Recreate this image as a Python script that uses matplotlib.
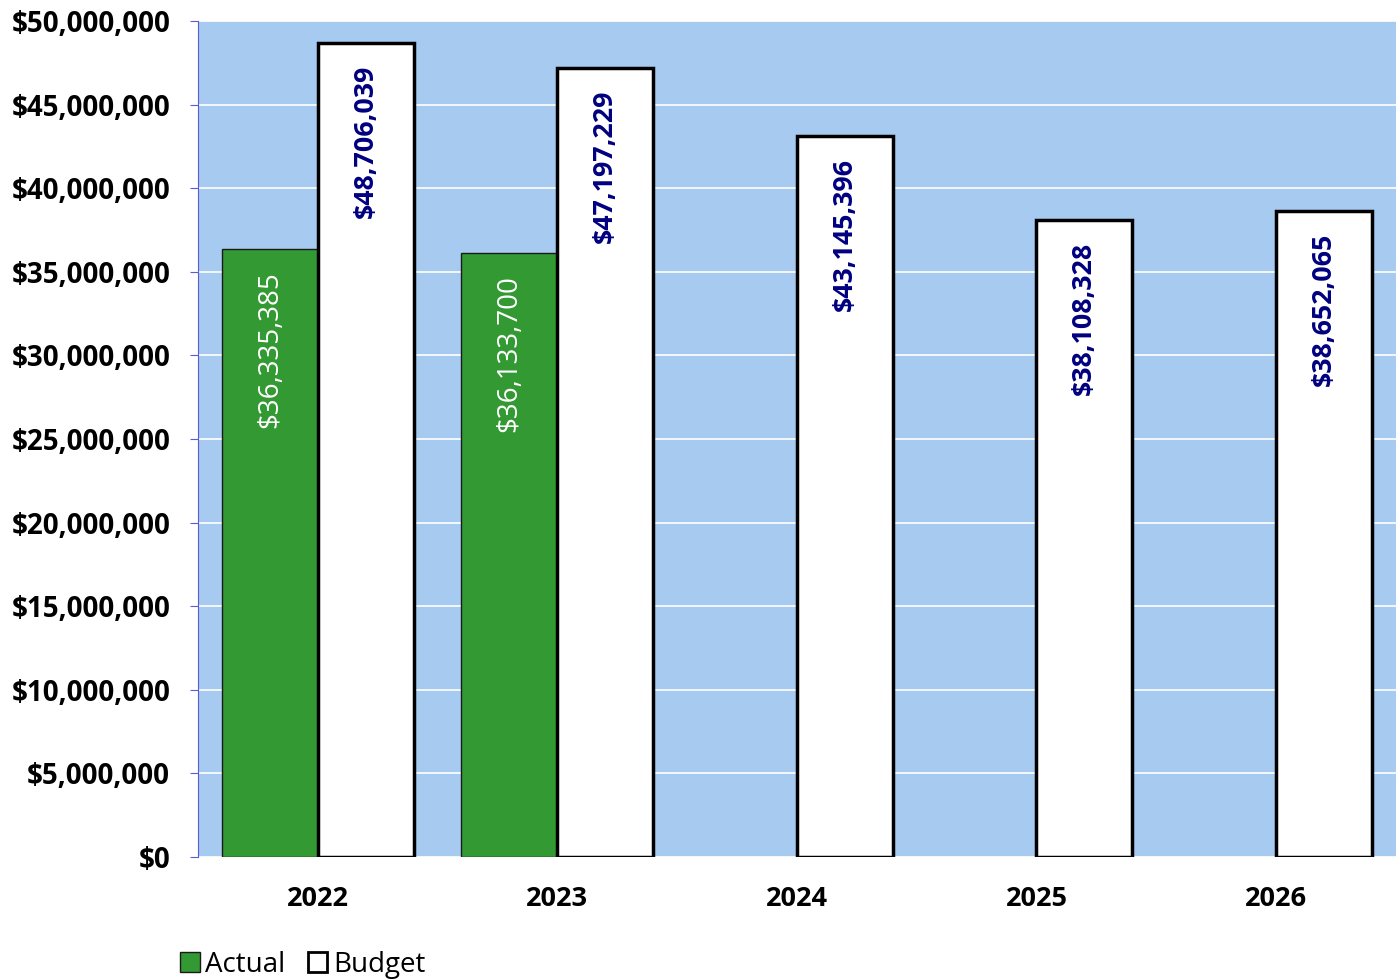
import numpy as np
import matplotlib.pyplot as plt
from matplotlib.ticker import FuncFormatter

plt.rcParams['font.family'] = ['Open Sans', 'DejaVu Sans']

anios = ["2022", "2023", "2024", "2025", "2026"]
actual = [36335385, 36133700, None, None, None]
budget = [48706039, 47197229, 43145396, 38108328, 38652065]

fig = plt.figure(figsize=(14, 9.8), dpi=100)
ax = fig.add_axes([0.1414, 0.1255, 0.8556, 0.8531])
ax.set_facecolor('#A6CAF0')

x = np.arange(len(anios))
ancho = 0.4

ax.set_axisbelow(True)
ax.grid(axis='y', color='white', linewidth=1.2)

for i, v in enumerate(actual):
    if v is None:
        continue
    ax.bar(x[i] - ancho / 2, v, width=ancho, color='#339933', edgecolor='#1a1a1a', linewidth=1)
    ax.annotate("${:,.0f}".format(v), (x[i] - ancho / 2, v), xytext=(0, -16),
                textcoords='offset points', rotation=90, ha='center', va='top',
                color='white', fontsize=20)

ax.bar(x + ancho / 2, budget, width=ancho, color='white', edgecolor='black', linewidth=2.5)
for i, v in enumerate(budget):
    ax.annotate("${:,.0f}".format(v), (x[i] + ancho / 2, v), xytext=(0, -16),
                textcoords='offset points', rotation=90, ha='center', va='top',
                color='#000080', fontsize=19.3, fontweight='bold')

ax.set_xlim(-0.5, 4.5)
ax.set_ylim(0, 50000000)
ax.set_yticks(np.arange(0, 50000001, 5000000))
ax.yaxis.set_major_formatter(FuncFormatter(lambda v, p: "${:,.0f}".format(v)))
ax.set_xticks(x)
ax.set_xticklabels(anios)

for s in ['top', 'right', 'bottom']:
    ax.spines[s].set_visible(False)
ax.spines['left'].set_color('#5B5BD6')
ax.tick_params(axis='y', length=6, color='#5B5BD6', labelsize=20, pad=14)
ax.tick_params(axis='x', length=0, labelsize=19.5, pad=21)
for lbl in ax.get_yticklabels() + ax.get_xticklabels():
    lbl.set_fontweight('bold')

h1 = plt.Rectangle((0, 0), 1, 1, facecolor='#339933', edgecolor='#1a1a1a', linewidth=1)
h2 = plt.Rectangle((0, 0), 1, 1, facecolor='white', edgecolor='black', linewidth=2)
fig.legend([h1, h2], ["Actual", "Budget"], loc='lower left', bbox_to_anchor=(0.111, -0.024),
           ncol=2, frameon=False, fontsize=20, handlelength=0.7, handleheight=0.7,
           handletextpad=0.2, columnspacing=0.8)

plt.savefig("out.png", dpi=100)
